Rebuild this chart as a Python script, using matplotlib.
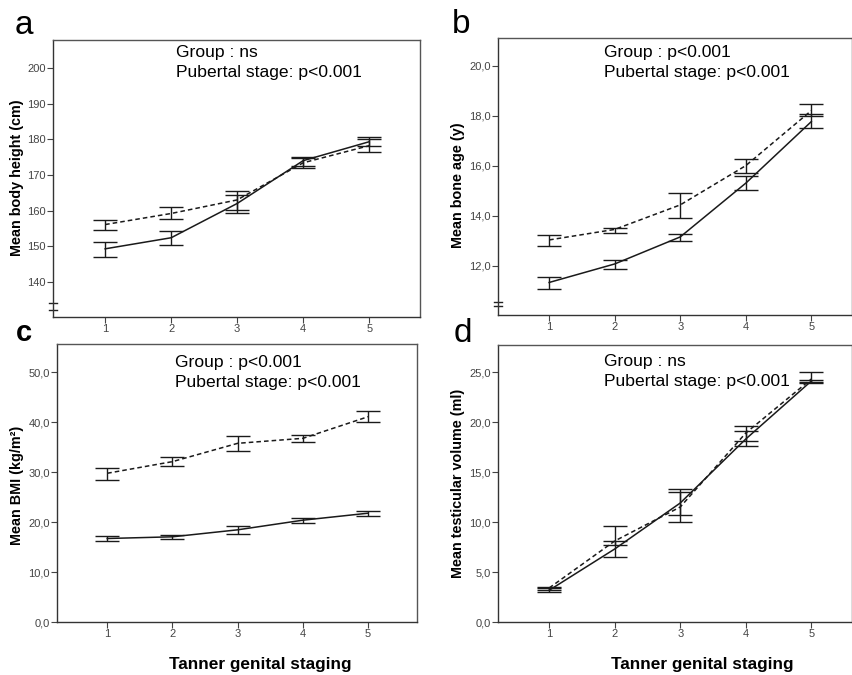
import numpy as np
import matplotlib
matplotlib.use("Agg")
import matplotlib.pyplot as plt
from matplotlib import transforms

plt.rcParams['font.family'] = ['Liberation Sans', 'DejaVu Sans']

stages = [1, 2, 3, 4, 5]

# panel a - body height (cm)
height_solid = [149.3, 152.4, 162.0, 174.0, 179.3]
height_solid_lo = [147.0, 150.5, 159.4, 172.5, 178.0]
height_solid_hi = [151.2, 154.3, 164.5, 175.0, 180.5]
height_dash = [156.1, 159.2, 163.0, 173.4, 178.2]
height_dash_lo = [154.5, 157.6, 160.3, 172.0, 176.5]
height_dash_hi = [157.5, 160.9, 165.4, 174.8, 180.0]

# panel b - bone age (y)
bone_solid = [11.33, 12.07, 13.15, 15.3, 17.76]
bone_solid_lo = [11.07, 11.85, 13.0, 15.03, 17.52]
bone_solid_hi = [11.56, 12.23, 13.27, 15.58, 18.05]
bone_dash = [13.03, 13.45, 14.43, 16.0, 18.2]
bone_dash_lo = [12.8, 13.32, 13.92, 15.69, 17.97]
bone_dash_hi = [13.23, 13.52, 14.92, 16.25, 18.47]

# panel c - BMI (kg/m2)
bmi_solid = [16.73, 17.07, 18.47, 20.4, 21.8]
bmi_solid_lo = [16.27, 16.6, 17.6, 19.8, 21.27]
bmi_solid_hi = [17.2, 17.47, 19.27, 20.87, 22.27]
bmi_dash = [29.8, 32.13, 35.8, 36.8, 41.13]
bmi_dash_lo = [28.47, 31.33, 34.27, 36.0, 40.0]
bmi_dash_hi = [30.8, 33.0, 37.2, 37.53, 42.27]

# panel d - testicular volume (ml)
vol_solid = [3.17, 7.3, 11.9, 18.3, 24.1]
vol_solid_lo = [3.0, 6.5, 10.73, 17.63, 23.97]
vol_solid_hi = [3.4, 8.07, 13.0, 19.07, 24.25]
vol_dash = [3.4, 8.1, 11.5, 18.9, 24.3]
vol_dash_lo = [3.2, 7.67, 10.0, 18.07, 23.9]
vol_dash_hi = [3.55, 9.57, 13.33, 19.63, 25.0]

yticks_a = [140, 150, 160, 170, 180, 190, 200]
yticks_b = [12, 14, 16, 18, 20]
yticks_c = [0, 10, 20, 30, 40, 50]
yticks_d = [0, 5, 10, 15, 20, 25]

W, H = 853, 675
fig = plt.figure(figsize=(W / 100, H / 100), dpi=100)


def box(l, t, r, b):
    return [l / W, 1 - b / H, (r - l) / W, (b - t) / H]


def draw_series(ax, m, lo, hi, ls):
    m = np.array(m)
    err = [m - np.array(lo), np.array(hi) - m]
    ax.errorbar(stages, m, yerr=err, color='#1a1a1a', ls=ls, lw=1.1,
                elinewidth=1.0, capsize=8.5, capthick=1.0,
                dashes=(3, 2) if ls == '--' else (None, None))


def panel(rect, xlim, ylim, yticks, ylabel, series, txt, labpos, brk=None):
    ax = fig.add_axes(rect)
    for (m, lo, hi, ls) in series:
        draw_series(ax, m, lo, hi, ls)
    ax.set_xlim(*xlim)
    ax.set_ylim(*ylim)
    ax.set_xticks(stages)
    ax.set_yticks(yticks)
    ax.set_yticklabels([f"{v:.1f}".replace('.', ',') if ylim[1] < 100 else str(v)
                        for v in yticks])
    ax.tick_params(length=4, width=0.8, labelsize=8, colors='#444444', pad=1)
    for s in ax.spines.values():
        s.set_color('#555555')
        s.set_linewidth(1.0)
    ax.spines['left'].set_color('#333333')
    ax.spines['bottom'].set_color('#333333')
    # axis break marks
    if brk is not None:
        tr = transforms.blended_transform_factory(ax.transAxes, ax.transData)
        for yb in brk:
            ax.plot([-0.012, 0.012], [yb, yb], color='#222222', lw=1.0,
                    transform=tr, clip_on=False)
    fig.text(labpos[0] / W, 1 - labpos[1] / H, ylabel, rotation=90,
             ha='center', va='center', fontsize=10.4, fontweight='bold')
    fig.text(txt[0] / W, 1 - txt[1] / H, txt[2], ha='left', va='top',
             fontsize=12.6, linespacing=1.45)
    return ax


panel(box(53, 40, 420, 317), (0.21, 5.77), (130.2, 207.8), yticks_a,
      'Mean body height (cm)',
      [(height_solid, height_solid_lo, height_solid_hi, '-'),
       (height_dash, height_dash_lo, height_dash_hi, '--')],
      (176, 45, 'Group : ns\nPubertal stage: p<0.001'), (17, 178),
      brk=[134.2, 132.3])

panel(box(498, 38, 852, 315), (0.22, 5.62), (10.03, 21.1), yticks_b,
      'Mean bone age (y)',
      [(bone_solid, bone_solid_lo, bone_solid_hi, '-'),
       (bone_dash, bone_dash_lo, bone_dash_hi, '--')],
      (604, 45, 'Group : p<0.001\nPubertal stage: p<0.001'), (458, 185),
      brk=[10.55, 10.4])

panel(box(57, 344, 417, 622), (0.23, 5.75), (0, 55.7), yticks_c,
      'Mean BMI (kg/m²)',
      [(bmi_solid, bmi_solid_lo, bmi_solid_hi, '-'),
       (bmi_dash, bmi_dash_lo, bmi_dash_hi, '--')],
      (175, 355, 'Group : p<0.001\nPubertal stage: p<0.001'), (17, 485))

panel(box(498, 345, 852, 622), (0.22, 5.62), (0, 27.7), yticks_d,
      'Mean testicular volume (ml)',
      [(vol_solid, vol_solid_lo, vol_solid_hi, '-'),
       (vol_dash, vol_dash_lo, vol_dash_hi, '--')],
      (604, 354, 'Group : ns\nPubertal stage: p<0.001'), (458, 483))

fig.text(260.6 / W, 1 - 665 / H, 'Tanner genital staging', ha='center',
         va='center', fontsize=12.4, fontweight='bold')
fig.text(702.5 / W, 1 - 665 / H, 'Tanner genital staging', ha='center',
         va='center', fontsize=12.4, fontweight='bold')

# panel letters
fig.text(15 / W, 1 - 34 / H, 'a', fontsize=24, va='baseline')
fig.text(452 / W, 1 - 33 / H, 'b', fontsize=24, va='baseline')
fig.text(16 / W, 1 - 341 / H, 'c', fontsize=21, fontweight='bold', va='baseline')
fig.text(454 / W, 1 - 342 / H, 'd', fontsize=24, va='baseline')

fig.savefig('out.png', dpi=100)
